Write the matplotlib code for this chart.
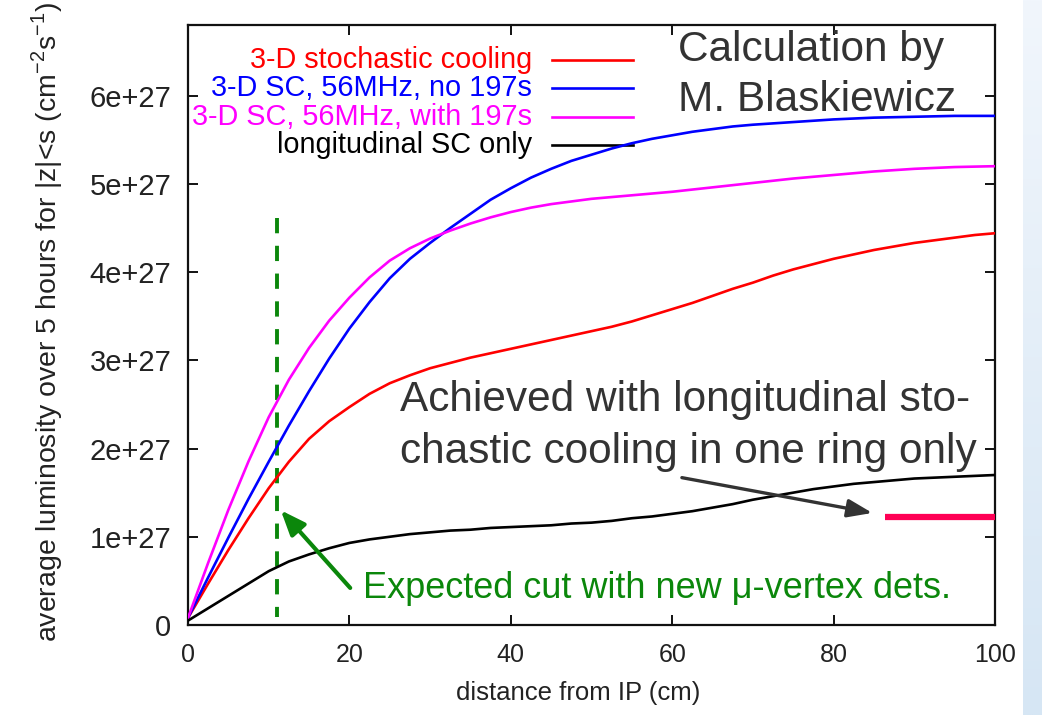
import numpy as np
import matplotlib
matplotlib.use("Agg")
import matplotlib.pyplot as plt
from matplotlib.colors import LinearSegmentedColormap
from matplotlib.ticker import FixedLocator, FixedFormatter

plt.rcParams["font.family"] = ["Liberation Sans", "DejaVu Sans"]
plt.rcParams["lines.scale_dashes"] = False

# distance from IP (cm), every 2.5 cm
distance = [0, 2.5, 5, 7.5, 10, 12.5, 15, 17.5, 20, 22.5, 25, 27.5, 30, 32.5, 35,
            37.5, 40, 42.5, 45, 47.5, 50, 52.5, 55, 57.5, 60, 62.5, 65, 67.5, 70,
            72.5, 75, 77.5, 80, 82.5, 85, 87.5, 90, 92.5, 95, 97.5, 100]

# average luminosity over 5 hours, units of 1e27 cm^-2 s^-1
sc_3d = [0.08, 0.47, 0.85, 1.21, 1.55, 1.85, 2.11, 2.31, 2.47, 2.62, 2.74, 2.83,
         2.91, 2.97, 3.03, 3.08, 3.13, 3.18, 3.23, 3.28, 3.33, 3.38, 3.44, 3.51,
         3.58, 3.65, 3.73, 3.81, 3.88, 3.96, 4.03, 4.09, 4.15, 4.20, 4.25, 4.29,
         4.33, 4.36, 4.39, 4.42, 4.44]
sc_56_no197 = [0.08, 0.54, 0.99, 1.43, 1.85, 2.26, 2.65, 3.02, 3.36, 3.66, 3.93,
               4.15, 4.33, 4.50, 4.66, 4.82, 4.95, 5.07, 5.17, 5.26, 5.33, 5.40,
               5.46, 5.51, 5.55, 5.59, 5.62, 5.65, 5.67, 5.685, 5.70, 5.715, 5.73,
               5.74, 5.75, 5.755, 5.76, 5.765, 5.77, 5.77, 5.77]
sc_56_with197 = [0.08, 0.705, 1.305, 1.855, 2.355, 2.78, 3.14, 3.45, 3.71, 3.94,
                 4.13, 4.27, 4.38, 4.47, 4.55, 4.62, 4.68, 4.73, 4.77, 4.80, 4.83,
                 4.85, 4.87, 4.89, 4.91, 4.935, 4.96, 4.985, 5.01, 5.035, 5.06,
                 5.08, 5.10, 5.12, 5.14, 5.155, 5.17, 5.18, 5.19, 5.195, 5.20]
long_sc = [0.05, 0.19, 0.33, 0.47, 0.61, 0.72, 0.80, 0.87, 0.93, 0.97, 1.00, 1.03,
           1.05, 1.07, 1.08, 1.10, 1.11, 1.12, 1.13, 1.15, 1.16, 1.18, 1.21, 1.23,
           1.26, 1.29, 1.33, 1.37, 1.42, 1.46, 1.50, 1.54, 1.57, 1.60, 1.62, 1.64,
           1.66, 1.67, 1.68, 1.69, 1.70]

labels = ["3-D stochastic cooling", "3-D SC, 56MHz, no 197s",
          "3-D SC, 56MHz, with 197s", "longitudinal SC only"]
colors = ["#ff0000", "#0000ff", "#ff00ff", "#000000"]
series = [sc_3d, sc_56_no197, sc_56_with197, long_sc]

# achieved value (longitudinal SC, one ring)
achieved_range = [86.4, 100]
achieved_value = 1.22

# expected vertex cut
cut_position = 11.0
cut_extent = [0.09, 4.61]

x_ticks = [0, 20, 40, 60, 80, 100]
y_ticks = [0, 1, 2, 3, 4, 5, 6]
y_tick_labels = ["0", "1e+27", "2e+27", "3e+27", "4e+27", "5e+27", "6e+27"]
SCALE = 1e27

W, H = 1042, 715
fig = plt.figure(figsize=(W / 100, H / 100), dpi=100)
fig.patch.set_facecolor("white")

# pale slide-background strip on the right edge
sax = fig.add_axes([1023 / W, 0, (W - 1023) / W, 1])
grad = np.linspace(0, 1, 256).reshape(-1, 1)
cmap = LinearSegmentedColormap.from_list("bg", ["#f1f6fc", "#d6e6f4"])
sax.imshow(grad, aspect="auto", cmap=cmap, extent=[0, 1, 0, 1], origin="upper")
sax.axis("off")

ax = fig.add_axes([188 / W, 1 - 625 / H, (995 - 188) / W, 600 / H])
x = np.array(distance)
for vals, c in zip(series, colors):
    ax.plot(x, np.array(vals) * SCALE, color=c, lw=1.9, solid_capstyle="round",
            solid_joinstyle="round", zorder=3)

ax.plot(achieved_range, [achieved_value * SCALE] * 2, color="#ff0055", lw=4.5,
        solid_capstyle="butt", zorder=3)
ax.plot([cut_position] * 2, [cut_extent[1] * SCALE, cut_extent[0] * SCALE],
        color="#0b870b", lw=2.8, dashes=(11, 9), dash_capstyle="butt",
        zorder=2)

ax.set_xlim(0, 100)
ax.set_ylim(0, 6.8 * SCALE)
ax.xaxis.set_major_locator(FixedLocator(x_ticks))
ax.yaxis.set_major_locator(FixedLocator([v * SCALE for v in y_ticks]))
ax.yaxis.set_major_formatter(FixedFormatter(y_tick_labels))
ax.tick_params(direction="in", length=7, width=1.4, top=True, right=True,
               colors="#111111")
ax.tick_params(axis="y", labelsize=21, pad=12, labelcolor="#222222")
ax.tick_params(axis="x", labelbottom=False)
for s in ax.spines.values():
    s.set_linewidth(1.6)
    s.set_color("#111111")

for t in x_ticks:
    xp = 188 + t * 8.07
    fig.text(xp / W, 1 - 655 / H, str(t), ha="center", va="center",
             fontsize=18, color="#222222")
fig.text(578 / W, 1 - 693 / H, "distance from IP (cm)", ha="center", va="center",
         fontsize=18.5, color="#222222")
fig.text(47 / W, 1 - 322 / H,
         r"average luminosity over 5 hours for |z|<s (cm$^{\mathregular{-2}}$s$^{\mathregular{-1}}$)",
         rotation=90, ha="center", va="center", fontsize=20.5, color="#222222")

# legend, gnuplot style: text right-aligned, sample to its right
rows = [60, 88, 117, 145]
for lab, c, yp in zip(labels, colors, rows):
    fy = (625 - yp) / 600
    ax.text((532 - 188) / 807, fy, lab, transform=ax.transAxes, ha="right",
            va="center", fontsize=20.8, color=c)
    ax.plot([(552 - 188) / 807, (633 - 188) / 807], [fy, fy], transform=ax.transAxes,
            color=c, lw=1.9, clip_on=False)

dark = "#333333"
fig.text(678 / W, 1 - 50 / H, "Calculation by", ha="left", va="center",
         fontsize=30.5, color=dark)
fig.text(678 / W, 1 - 100 / H, "M. Blaskiewicz", ha="left", va="center",
         fontsize=30.5, color=dark)
fig.text(400 / W, 1 - 400 / H, "Achieved with longitudinal sto-", ha="left",
         va="center", fontsize=30.5, color=dark)
fig.text(400 / W, 1 - 452 / H, "chastic cooling in one ring only", ha="left",
         va="center", fontsize=30.5, color=dark)
fig.text(363 / W, 1 - 588 / H, "Expected cut with new \u03bc-vertex dets.",
         ha="left", va="center", fontsize=26, color="#0b870b")

ax.annotate("", xy=(11.5, 1.30 * SCALE), xytext=(20.1, 0.42 * SCALE),
            arrowprops=dict(arrowstyle="-|>,head_length=1.5,head_width=0.6",
                            color="#0b870b", lw=3, shrinkA=0, shrinkB=0),
            zorder=4)
ax.annotate("", xy=(84.8, 1.27 * SCALE), xytext=(61.2, 1.67 * SCALE),
            arrowprops=dict(arrowstyle="-|>,head_length=1.5,head_width=0.55",
                            color=dark, lw=2.4, shrinkA=0, shrinkB=0),
            zorder=4)

fig.savefig("out.png", dpi=100)
